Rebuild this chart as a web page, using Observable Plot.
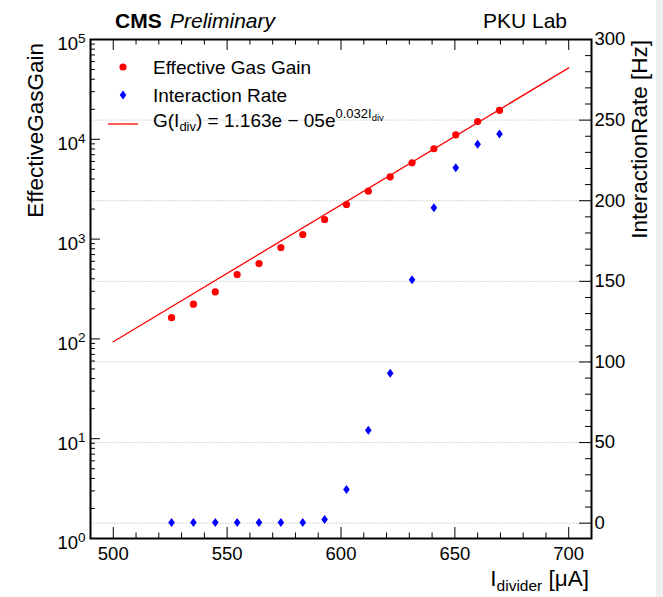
<!DOCTYPE html>
<html><head><meta charset="utf-8">
<script src="https://cdn.jsdelivr.net/npm/d3@7"></script>
<script src="https://cdn.jsdelivr.net/npm/@observablehq/plot@0.6"></script>
<style>
body{margin:0;background:#fff;}
#wrap{position:relative;width:663px;height:597px;overflow:hidden;background:#fff;font-family:"Liberation Sans",Arial,sans-serif;}
#wrap svg{position:absolute;left:0;top:0;}
#strip{position:absolute;left:656px;top:0;width:7px;height:597px;background:#efefef;}
</style></head><body><div id="wrap"><div id="strip"></div></div>
<script>
// ---- data ----
const current = [525.6, 535.2, 544.8, 554.4, 564.0, 573.6, 583.2, 592.8, 602.4, 612.0, 621.6, 631.2, 640.8, 650.4, 660.0, 669.6];
const gain = [163, 223, 296, 442, 569, 824, 1112, 1571, 2222, 3020, 4210, 5816, 8040, 11100, 15070, 19500];
const rate = [0.4, 0.4, 0.4, 0.4, 0.4, 0.4, 0.4, 2.3, 20.9, 57.6, 93, 151, 195.7, 220.5, 235, 241.4];
const fitCurrent = [500, 700];
const fitGain = [93.5, 52000];
const xTicks = [500, 550, 600, 650, 700];
const xMinorTicks = [490, 510, 520, 530, 540, 560, 570, 580, 590, 610, 620, 630, 640, 660, 670, 680, 690, 710];
const gainTicks = [1, 10, 100, 1000, 10000, 100000];
const gainMinorTicks = [2,3,4,5,6,7,8,9,20,30,40,50,60,70,80,90,200,300,400,500,600,700,800,900,2000,3000,4000,5000,6000,7000,8000,9000,20000,30000,40000,50000,60000,70000,80000,90000];
const rateTicks = [0, 50, 100, 150, 200, 250, 300];
const rateMinorTicks = [10,20,30,40,60,70,80,90,110,120,130,140,160,170,180,190,210,220,230,240,260,270,280,290];
const rateGrid = [0, 50, 100, 150, 200, 250];

const W = 663, H = 597, mL = 90, mR = 72, mT = 39, mB = 59;
const fh = H - mT - mB, fw = W - mL - mR;
const FONT = "Liberation Sans, Arial, sans-serif";

const gainData = current.map((c, i) => ({c, g: gain[i]}));
const rateData = current.map((c, i) => ({c, r: rate[i]}));
const fitData = fitCurrent.map((c, i) => ({c, g: fitGain[i]}));

// ROOT-like diamond marker (a bit wider than d3's)
const rootDiamond = {
  draw(ctx, size) {
    const r = Math.sqrt(size / Math.PI);
    const w = 1.1 * r, h = 1.5 * r;
    ctx.moveTo(0, -h); ctx.lineTo(w, 0); ctx.lineTo(0, h); ctx.lineTo(-w, 0); ctx.closePath();
  }
};

const common = {
  width: W, height: H, marginLeft: mL, marginRight: mR, marginTop: mT, marginBottom: mB,
  style: {background: "transparent", fontFamily: FONT, fontSize: "18.5px", overflow: "visible"}
};

// secondary (rate) plot underneath
const p2 = Plot.plot({
  ...common,
  x: {domain: [490, 710], axis: null},
  y: {domain: [-9.5, 300]},
  marks: [
    Plot.gridY(rateGrid, {stroke: "#c8c8c8", strokeOpacity: 1, strokeDasharray: "1.5,1.5"}),
    Plot.tickY(rateTicks, {y: d => d, insetLeft: fw - 12, stroke: "black"}),
    Plot.tickY(rateMinorTicks, {y: d => d, insetLeft: fw - 6, stroke: "black"}),
    Plot.dot(rateData, {x: "c", y: "r", symbol: rootDiamond, r: 3, fill: "blue", stroke: "none"}),
    Plot.axisY({anchor: "right", ticks: rateTicks, tickSize: 0, tickPadding: 3, label: null, fill: "black"})
  ]
});

const p1 = Plot.plot({
  ...common,
  x: {domain: [490, 710]},
  y: {type: "log", domain: [1, 1e5]},
  marks: [
    Plot.tickX(xTicks, {x: d => d, insetTop: fh - 11, stroke: "black"}),
    Plot.tickX(xTicks, {x: d => d, insetBottom: fh - 11, stroke: "black"}),
    Plot.tickX(xMinorTicks, {x: d => d, insetTop: fh - 5.5, stroke: "black"}),
    Plot.tickX(xMinorTicks, {x: d => d, insetBottom: fh - 5.5, stroke: "black"}),
    Plot.tickY(gainTicks, {y: d => d, insetRight: fw - 10, stroke: "black"}),
    Plot.tickY(gainMinorTicks, {y: d => d, insetRight: fw - 5, stroke: "black"}),
    Plot.line(fitData, {x: "c", y: "g", stroke: "#ff0000", strokeWidth: 1.3}),
    Plot.dot(gainData, {x: "c", y: "g", r: 3.6, fill: "#ff0000", stroke: "none"}),
    Plot.frame({stroke: "black", strokeWidth: 2}),
    Plot.axisX({ticks: xTicks, tickSize: 0, tickPadding: 8, label: null}),
    Plot.axisY({ticks: gainTicks, tickSize: 0, tickPadding: 5, label: null,
      tickFormat: d => "10|" + Math.round(Math.log10(d))})
  ]
});

const wrap = document.getElementById("wrap");
wrap.appendChild(p2);
wrap.appendChild(p1);

const s1 = d3.select(p1);
// superscript exponents on the log axis labels
s1.selectAll('g[aria-label="y-axis tick label"] text').each(function() {
  const t = d3.select(this);
  const parts = this.textContent.split("|");
  if (parts.length !== 2) return;
  t.text(null);
  t.attr("dy", null).attr("transform", (t.attr("transform") || "") + " translate(0,-1)");
  t.append("tspan").attr("dy", "0.32em").text(parts[0]);
  t.append("tspan").attr("dy", "-0.55em").attr("font-size", "13.5px").text(parts[1]);
});

// header texts
const hdr = s1.append("g").attr("font-family", FONT).attr("fill", "black").attr("text-anchor", "start");
hdr.append("text").attr("x", 115).attr("y", 28).attr("font-size", 21).attr("font-weight", "bold").text("CMS");
hdr.append("text").attr("x", 170).attr("y", 28).attr("font-size", 21).attr("font-style", "italic").text("Preliminary");
hdr.append("text").attr("x", 567).attr("y", 28).attr("font-size", 21).attr("text-anchor", "end").text("PKU Lab");

// axis titles
hdr.append("text").attr("transform", "translate(43,43) rotate(-90)").attr("text-anchor", "end")
  .attr("font-size", 22.5).text("EffectiveGasGain");
hdr.append("text").attr("transform", "translate(647,40) rotate(-90)").attr("text-anchor", "end")
  .attr("font-size", 22.5).text("InteractionRate [Hz]");
const xt = hdr.append("text").attr("x", 589).attr("y", 586).attr("text-anchor", "end").attr("font-size", 22.5);
xt.append("tspan").text("I");
xt.append("tspan").attr("font-size", 15.5).attr("dy", 5).text("divider");
xt.append("tspan").attr("dy", -5).text(" [\u03bcA]");

// legend
const lg = s1.append("g").attr("font-family", FONT).attr("font-size", 19).attr("fill", "black").attr("text-anchor", "start");
lg.append("circle").attr("cx", 123).attr("cy", 67).attr("r", 3.6).attr("fill", "#ff0000");
lg.append("text").attr("x", 153).attr("y", 73.5).text("Effective Gas Gain");
lg.append("path").attr("d", d3.symbol(rootDiamond, Math.PI * 9)()).attr("transform", "translate(123,95)").attr("fill", "blue");
lg.append("text").attr("x", 153).attr("y", 101.5).text("Interaction Rate");
lg.append("line").attr("x1", 108).attr("x2", 138).attr("y1", 124).attr("y2", 124).attr("stroke", "#ff0000").attr("stroke-width", 1.3);
const ft = lg.append("text").attr("x", 153).attr("y", 127);
ft.append("tspan").text("G(I");
ft.append("tspan").attr("font-size", 13).attr("dy", 4).text("div");
ft.append("tspan").attr("dy", -4).text(") = 1.163e \u2212 05e");
ft.append("tspan").attr("font-size", 13).attr("dy", -9).text("0.032I");
ft.append("tspan").attr("font-size", 9.5).attr("dy", 3).text("div");
</script></body></html>
